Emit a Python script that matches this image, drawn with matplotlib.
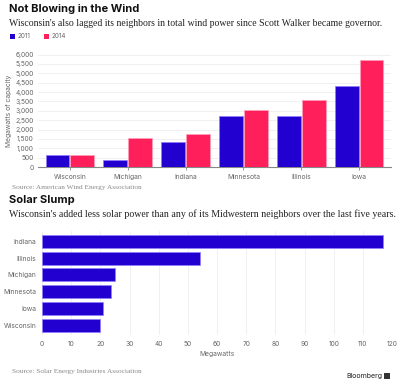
import matplotlib
matplotlib.use("Agg")
import matplotlib.pyplot as plt
import numpy as np

wind_states = ["Wisconsin", "Michigan", "Indiana", "Minnesota", "Illinois", "Iowa"]
wind_2011 = [631, 377, 1340, 2733, 2742, 4322]
wind_2014 = [648, 1531, 1745, 3035, 3568, 5688]
wind_yticks = [0, 500, 1000, 1500, 2000, 2500, 3000, 3500, 4000, 4500, 5000, 5500, 6000]

solar_states = ["Indiana", "Illinois", "Michigan", "Minnesota", "Iowa", "Wisconsin"]
solar_mw = [117, 54, 25, 23.5, 21, 20]
solar_xticks = [0, 10, 20, 30, 40, 50, 60, 70, 80, 90, 100, 110, 120]

BLUE = "#2200d0"
PINK = "#ff1f5b"
SANS = "Inter"
SERIF = "Liberation Serif"
TICKC = "#666666"

W, H = 400, 381
fig = plt.figure(figsize=(W / 100, H / 100), dpi=100)
fig.patch.set_facecolor("white")

def fx(px):
    return px / W

def fy(py):
    return 1 - py / H

# Titles
fig.text(fx(9), fy(9), "Not Blowing in the Wind", family=SANS, weight="bold", fontsize=8.0,
         va="center", ha="left", color="#111111")
fig.text(fx(9), fy(23), "Wisconsin's also lagged its neighbors in total wind power since Scott Walker became governor.",
         family=SERIF, fontsize=7.0, va="center", ha="left", color="#222222")

# Legend
for x0, col, lab in [(10, BLUE, "2011"), (44, PINK, "2014")]:
    fig.patches.append(plt.Rectangle((fx(x0), fy(39)), fx(5), 5 / H, transform=fig.transFigure,
                                     facecolor=col, edgecolor="none"))
    fig.text(fx(x0 + 8), fy(36.5), lab, family=SANS, fontsize=4.6, va="center", ha="left", color=TICKC)

# Wind chart
ax1 = fig.add_axes([fx(38), fy(167), fx(391 - 38), (167 - 54.6) / H])
x = np.arange(len(wind_states))
bw = 0.41
ax1.bar(x - bw / 2 - 0.01, wind_2011, width=bw, color=BLUE, edgecolor="#8f80ff", linewidth=0.5, zorder=3)
ax1.bar(x + bw / 2 + 0.01, wind_2014, width=bw, color=PINK, edgecolor="#ff9fb8", linewidth=0.5, zorder=3)
ax1.set_xlim(-0.55, len(wind_states) - 0.45)
ax1.set_ylim(0, 6000)
ax1.set_yticks(wind_yticks)
ax1.set_yticklabels([f"{v:,}" for v in wind_yticks])
ax1.set_xticks(x)
ax1.set_xticklabels(wind_states)
ax1.grid(axis="y", color="#eeeeee", linewidth=0.6, zorder=0)
for s in ["top", "right", "left"]:
    ax1.spines[s].set_visible(False)
ax1.spines["bottom"].set_color("#888888")
ax1.spines["bottom"].set_linewidth(0.8)
ax1.tick_params(axis="y", length=0, pad=3, labelsize=4.8, labelcolor=TICKC)
ax1.tick_params(axis="x", length=2, width=0.6, color="#888888", pad=3, labelsize=4.8, labelcolor=TICKC)
for t in ax1.get_xticklabels() + ax1.get_yticklabels():
    t.set_family(SANS)
ax1.set_ylabel("Megawatts of capacity", family=SANS, fontsize=4.8, color=TICKC, labelpad=3)
ax1.yaxis.set_label_coords(-0.075, 0.5)

fig.text(fx(12), fy(187), "Source: American Wind Energy Association", family=SERIF, fontsize=5.2,
         va="center", ha="left", color="#888888")

fig.text(fx(9), fy(200), "Solar Slump", family=SANS, weight="bold", fontsize=8.0,
         va="center", ha="left", color="#111111")
fig.text(fx(9), fy(214), "Wisconsin's added less solar power than any of its Midwestern neighbors over the last five years.",
         family=SERIF, fontsize=7.1, va="center", ha="left", color="#222222")

# Solar chart
ax2 = fig.add_axes([fx(42), fy(335), fx(392 - 42), (335 - 231) / H])
y = np.arange(len(solar_states))
ax2.barh(y, solar_mw, height=0.77, color=BLUE, edgecolor="#8f80ff", linewidth=0.5, zorder=3)
ax2.set_ylim(len(solar_states) - 0.45, -0.6)
ax2.set_xlim(0, 120)
ax2.set_xticks(solar_xticks)
ax2.set_yticks(y)
ax2.set_yticklabels(solar_states)
ax2.grid(axis="x", color="#eeeeee", linewidth=0.6, zorder=0)
for s in ["top", "right", "left", "bottom"]:
    ax2.spines[s].set_visible(False)
ax2.tick_params(axis="both", length=0, pad=4, labelsize=4.8, labelcolor=TICKC)
for t in ax2.get_xticklabels() + ax2.get_yticklabels():
    t.set_family(SANS)
ax2.set_xlabel("Megawatts", family=SANS, fontsize=4.8, color=TICKC, labelpad=3)

fig.text(fx(12), fy(372), "Source: Solar Energy Industries Association", family=SERIF, fontsize=5.2,
         va="center", ha="left", color="#888888")
fig.text(fx(382), fy(376), "Bloomberg", family=SANS, fontsize=5.0, va="center", ha="right", color="#222222")
fig.patches.append(plt.Rectangle((fx(384), fy(379)), fx(6), 6 / H, transform=fig.transFigure,
                                 facecolor="#333333", edgecolor="none"))

fig.savefig("out.png", dpi=100, facecolor="white")
